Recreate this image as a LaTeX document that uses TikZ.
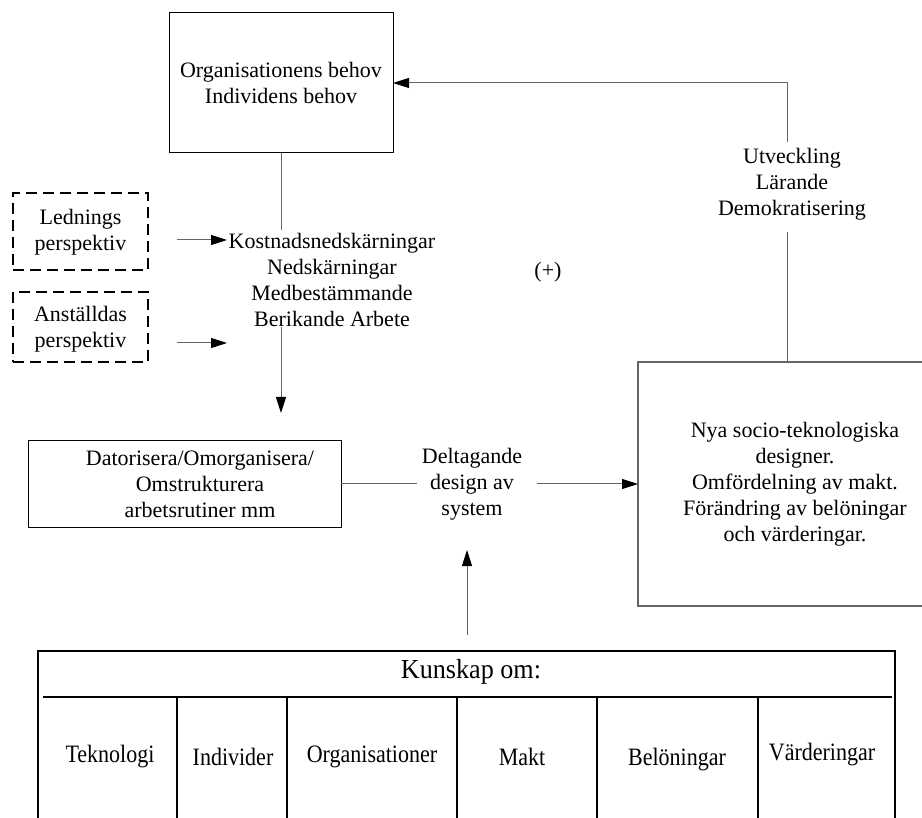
\documentclass[tikz,border=0pt]{standalone}
\usepackage{fontspec}
\setmainfont{Liberation Serif}
\newfontfamily\narrowfont[FakeStretch=0.88]{Liberation Serif}
\newfontfamily\headfont[FakeStretch=0.95]{Liberation Serif}
\usetikzlibrary{arrows.meta}
\begin{document}
\begin{tikzpicture}[x=1pt,y=-1pt,
  conn/.style={draw=black!60, line width=1pt},
  arr/.style={conn, -{Triangle[length=16pt,width=10pt,color=black]}},
  boxS/.style={draw=black, line width=1pt, inner sep=0pt, outer sep=0pt},
  greybox/.style={draw=black!60, line width=1.2pt, inner sep=0pt, outer sep=0pt},
  dbox/.style={draw=black, line width=2.4pt, dash pattern=on 11pt off 6pt, inner sep=0pt, outer sep=0pt},
  txt/.style={align=center, font=\fontsize{22}{26}\selectfont, inner sep=0pt},
  celltxt/.style={inner sep=0pt, font=\narrowfont\fontsize{25}{28}\selectfont},
  tabline/.style={draw=black, line width=1.2pt}
]
\useasboundingbox (0,0) rectangle (922,818);
\clip (0,0) rectangle (922,818);

% top box
\node[boxS, minimum width=224, minimum height=140, txt] (top) at (281,83)
  {Organisationens behov\\Individens behov};

% dashed boxes
\node[dbox, minimum width=135, minimum height=77] (led) at (80.5,231.5) {};
\node[txt] (ledT) at (80.5,232) {Lednings\\perspektiv};
\node[dbox, minimum width=135, minimum height=70] (ans) at (80.5,327) {};
\node[txt] (ansT) at (80.5,329) {Anställdas\\perspektiv};

% middle text
\node[txt] (kost) at (332,280)
  {Kostnadsnedskärningar\\Nedskärningar\\Medbestämmande\\Berikande Arbete};
\node[txt] (plus) at (548,272) {(+)};

% datorisera box
\node[boxS, minimum width=313, minimum height=86] (dat) at (184.5,484) {};
\node[txt] (datT) at (200,484) {Datorisera/Omorganisera/\\Omstrukturera\\arbetsrutiner mm};

\node[txt] (delt) at (472,484) {Deltagande\\design av\\system};

% right box
\node[greybox, minimum width=314, minimum height=244] (ny) at (795,484) {};
\node[txt] (nyT) at (795,484) {Nya socio-teknologiska\\designer.\\Omfördelning av makt.\\Förändring av belöningar\\och värderingar.};

\node[txt] (utv) at (792,184) {Utveckling\\Lärande\\Demokratisering};

% coordinates
\coordinate (k1) at (281,230);
\coordinate (k2) at (281,327);
\coordinate (k3) at (281,413);
\coordinate (la1) at (177,240);
\coordinate (la2) at (227,240);
\coordinate (lb1) at (177,343);
\coordinate (lb2) at (227,343);
\coordinate (d1) at (417,484);
\coordinate (d2) at (537,484);
\coordinate (u0) at (787,362);
\coordinate (u1) at (787,232);
\coordinate (u2) at (787,142);
\coordinate (t1) at (467,635);
\coordinate (t2) at (467,550);

% connectors
\draw[conn] (top.south) -- (k1);
\draw[arr] (k2) -- (k3);
\draw[arr] (la1) -- (la2);
\draw[arr] (lb1) -- (lb2);
\draw[conn] (dat.east) -- (d1);
\draw[arr] (d2) -- (ny.west);
\draw[conn] (u0) -- (u1);
\draw[arr] (u2) |- (top.east);
\draw[arr] (t1) -- (t2);

% table
\node[tabline, minimum width=857, minimum height=200, inner sep=0pt, outer sep=0pt, anchor=north west] (tab) at (38,651) {};
\node[inner sep=0pt, font=\headfont\fontsize{27.5}{30}\selectfont] (kh) at (471,672) {Kunskap om:};
\coordinate (h1) at (43,697);
\coordinate (h2) at (892,697);
\draw[tabline] (h1) -- (h2);
\foreach \cx/\nm in {177/c1,287/c2,457/c3,597/c4,758/c5}{
  \coordinate (\nm a) at (\cx,697);
  \coordinate (\nm b) at (\cx,830);
  \draw[tabline] (\nm a) -- (\nm b);
}
\node[celltxt] (tek) at (110,757) {Teknologi};
\node[celltxt] (ind) at (233,757) {Individer};
\node[celltxt] (org) at (372,757) {Organisationer};
\node[celltxt] (makt) at (522,757) {Makt};
\node[celltxt] (bel) at (677,760) {Belöningar};
\node[celltxt] (var) at (822,755) {Värderingar};
\end{tikzpicture}
\end{document}
